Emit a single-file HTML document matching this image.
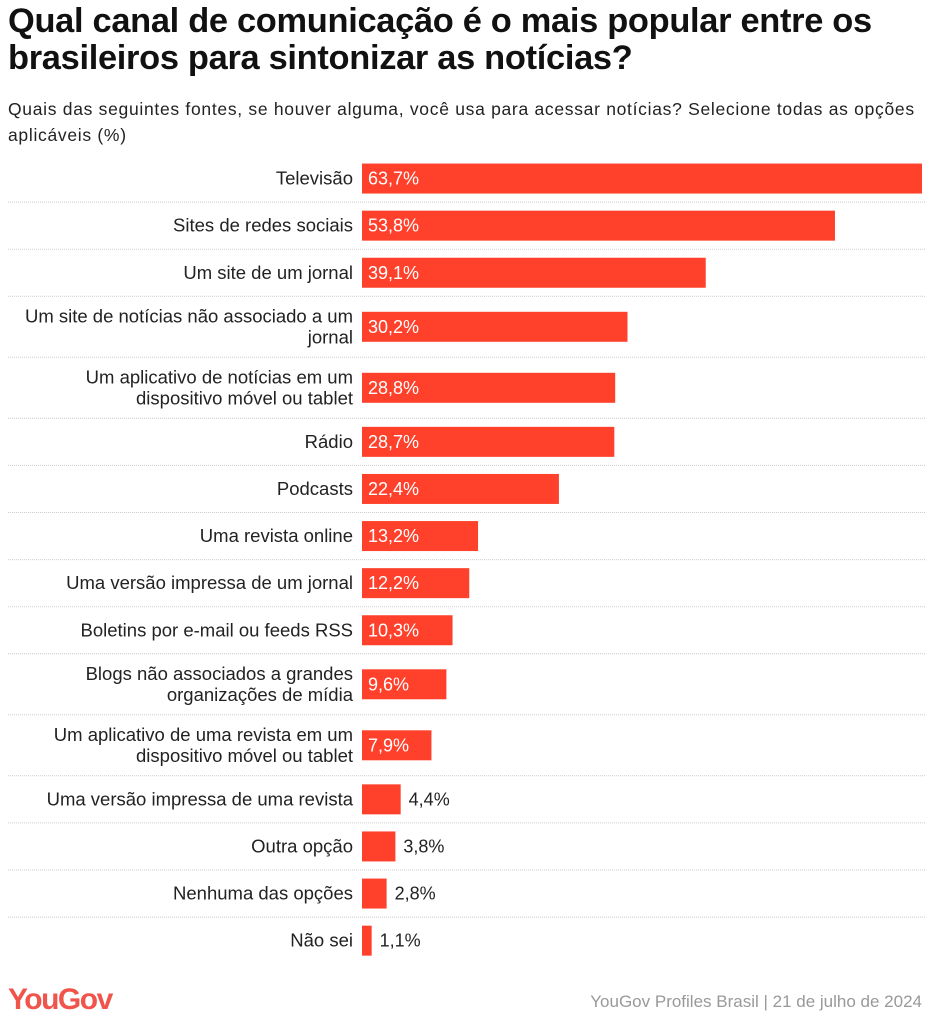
<!DOCTYPE html>
<html><head><meta charset="utf-8"><style>
body{margin:0;background:#fff;width:931px;height:1024px;overflow:hidden;font-family:"Liberation Sans",sans-serif;}
#t{position:absolute;left:8px;top:3px;font-size:34.4px;font-weight:bold;line-height:37px;color:#111;letter-spacing:-0.3px;margin:0}
#s{position:absolute;left:8px;top:96px;font-size:17.5px;letter-spacing:0.7px;line-height:26px;color:#222;margin:0;width:925px}
svg{position:absolute;left:0;top:0}
</style></head><body>
<h1 id="t">Qual canal de comunicação é o mais popular entre os<br>brasileiros para sintonizar as notícias?</h1>
<p id="s">Quais das seguintes fontes, se houver alguma, você usa para acessar notícias? Selecione todas as opções<br>aplicáveis (%)</p>
<svg id="c" width="931" height="1024">
<text x="8" y="1009" font-size="30" font-weight="bold" fill="#f0544a" letter-spacing="-1.5">YouGov</text>
<text x="922" y="1007" text-anchor="end" font-size="17" fill="#999">YouGov Profiles Brasil | 21 de julho de 2024</text>
</svg>
<script>
const categories=[["Televisão"],["Sites de redes sociais"],["Um site de um jornal"],["Um site de notícias não associado a um","jornal"],["Um aplicativo de notícias em um","dispositivo móvel ou tablet"],["Rádio"],["Podcasts"],["Uma revista online"],["Uma versão impressa de um jornal"],["Boletins por e-mail ou feeds RSS"],["Blogs não associados a grandes","organizações de mídia"],["Um aplicativo de uma revista em um","dispositivo móvel ou tablet"],["Uma versão impressa de uma revista"],["Outra opção"],["Nenhuma das opções"],["Não sei"]];
const values=[63.7,53.8,39.1,30.2,28.8,28.7,22.4,13.2,12.2,10.3,9.6,7.9,4.4,3.8,2.8,1.1];
const labels=["63,7%","53,8%","39,1%","30,2%","28,8%","28,7%","22,4%","13,2%","12,2%","10,3%","9,6%","7,9%","4,4%","3,8%","2,8%","1,1%"];
const svg=document.getElementById('c');const NS="http://www.w3.org/2000/svg";
const x0=362,xs=560/63.7;
const x=v=>v*xs;
let y=155;
categories.forEach((cat,i)=>{
  const h=cat.length>1?61:47.1;
  const cy=y+h/2;
  const r=document.createElementNS(NS,'rect');
  r.setAttribute('x',x0);r.setAttribute('y',cy-15);r.setAttribute('width',x(values[i]));r.setAttribute('height',30);r.setAttribute('fill','#ff412c');
  
  
  svg.appendChild(r);
  cat.forEach((ln,j)=>{
    const t=document.createElementNS(NS,'text');
    t.setAttribute('x',353);t.setAttribute('y',cy+6+(j-(cat.length-1)/2)*21);t.setAttribute('text-anchor','end');t.setAttribute('font-size','18.5');t.setAttribute('fill','#222');
    t.textContent=ln;
    
    
    svg.appendChild(t);
  });
  const inside=values[i]>=7;
  const v=document.createElementNS(NS,'text');
  v.setAttribute('x',inside?x0+6:x0+x(values[i])+8);v.setAttribute('y',cy+6);v.setAttribute('font-size','18');v.setAttribute('fill',inside?'#fff':'#222');
  v.textContent=labels[i];
  
  
  svg.appendChild(v);
  y+=h;
  if(i<categories.length-1){
    const l=document.createElementNS(NS,'line');
    l.setAttribute('x1',8);l.setAttribute('x2',925);l.setAttribute('y1',y);l.setAttribute('y2',y);l.setAttribute('stroke','#ccc');l.setAttribute('stroke-dasharray','1 1');
    
    
    svg.appendChild(l);
  }
});
</script>
</body></html>
